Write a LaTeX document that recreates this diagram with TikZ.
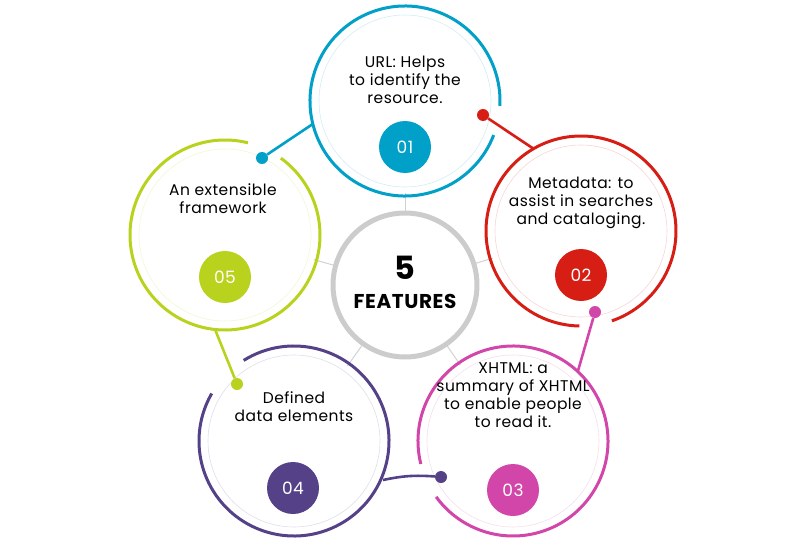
\documentclass[tikz,border=0pt]{standalone}
\usepackage{fontspec}
\setmainfont{Poppins}[LetterSpace=3]
\definecolor{feat_blue}{RGB}{0, 160, 200}
\definecolor{feat_red}{RGB}{215, 30, 20}
\definecolor{feat_pink}{RGB}{210, 70, 170}
\definecolor{feat_purple}{RGB}{85, 65, 135}
\definecolor{feat_green}{RGB}{185, 210, 30}
\usetikzlibrary{calc}

\begin{document}
\begin{tikzpicture}[x=1pt, y=-1pt,
    ring/.style={line width=3pt},
    inring/.style={line width=0.6pt},
    tail/.style={line width=2.6pt},
    dot/.style={circle, fill, inner sep=0pt, minimum size=12pt},
    badge/.style={circle, fill, inner sep=0pt, minimum size=52pt, text=white, font=\fontsize{17}{17}\selectfont},
    label/.style={align=center, font=\fontsize{15.5}{18}\selectfont}]
        \useasboundingbox (0,0) rectangle (806,543);
        % Cercle central
        \coordinate (mid) at (405,285);
        \foreach \cx/\cy [count=\i] in {405/101, 581/231, 513/441, 294/441, 225/235}
          \draw[gray!35, line width=1pt] (mid) -- ($(mid)!1!(\cx,\cy)$);
        \draw[gray!40, line width=5pt, fill=white] (mid) circle[radius=72];
        \node at (405,268) {\fontsize{32}{32}\selectfont\bfseries 5};
        \node at (405,301) {\fontsize{20}{20}\selectfont\bfseries FEATURES};
        % Cinq cercles : centre, couleur, trou, depart de la queue
        \foreach \cx/\cy/\col/\ga/\gb/\ta in {405/101/feat_blue/3/21/166,
            581/231/feat_red/71/91/-120, 513/441/feat_pink/144/166/-47,
            294/441/feat_purple/-150/-122/4, 225/235/feat_green/-76/-54/96}{
          \draw[white, fill=white] (\cx,\cy) circle[radius=92];
          \draw[inring, \col!18] (\cx,\cy) circle[radius=86];
          \draw[ring, \col] (\cx,\cy) ++(\gb:95) arc[start angle=\gb, end angle=\ga+360, radius=95];
        }
        % Queues et points
        \coordinate (b1) at ($(405,101)+(166:95)$);
        \coordinate (b2) at ($(581,231)+(-120:95)$);
        \coordinate (b3) at ($(513,441)+(-47:95)$);
        \coordinate (b4) at ($(294,441)+(22:95)$);
        \coordinate (b5) at ($(225,235)+(96:95)$);
        \node[dot, feat_blue] (d1) at (262,158) {};
        \node[dot, feat_red] (d2) at (483,115) {};
        \node[dot, feat_pink] (d3) at (595,312) {};
        \node[dot, feat_purple] (d4) at (441,477) {};
        \node[dot, feat_green] (d5) at (237,384) {};
        \draw[tail, feat_blue] (b1) -- (d1);
        \draw[tail, feat_red] (b2) -- (d2);
        \draw[tail, feat_pink] (b3) -- (d3);
        \draw[tail, feat_purple] (383,480) to[bend left=8] (d4);
        \draw[tail, feat_green] (b5) -- (d5);
        % Textes
        \node[label] (t1) at (405,80) {URL: Helps\\to identify the\\resource.};
        \node[label] (t2) at (581,203) {Metadata: to\\assist in searches\\and cataloging.};
        \node[label] (t3) at (513,395) {XHTML: a\\summary of XHTML\\to enable people\\to read it.};
        \node[label] (t4) at (294,407) {Defined\\data elements};
        \node[label] (t5) at (223,199) {An extensible\\framework};
        \node[badge, fill=feat_blue] (n1) at (405,147) {01};
        \node[badge, fill=feat_red] (n2) at (581,275) {02};
        \node[badge, fill=feat_pink] (n3) at (513,490) {03};
        \node[badge, fill=feat_purple] (n4) at (293,488) {04};
        \node[badge, fill=feat_green] (n5) at (225,277) {05};
\end{tikzpicture}
\end{document}
